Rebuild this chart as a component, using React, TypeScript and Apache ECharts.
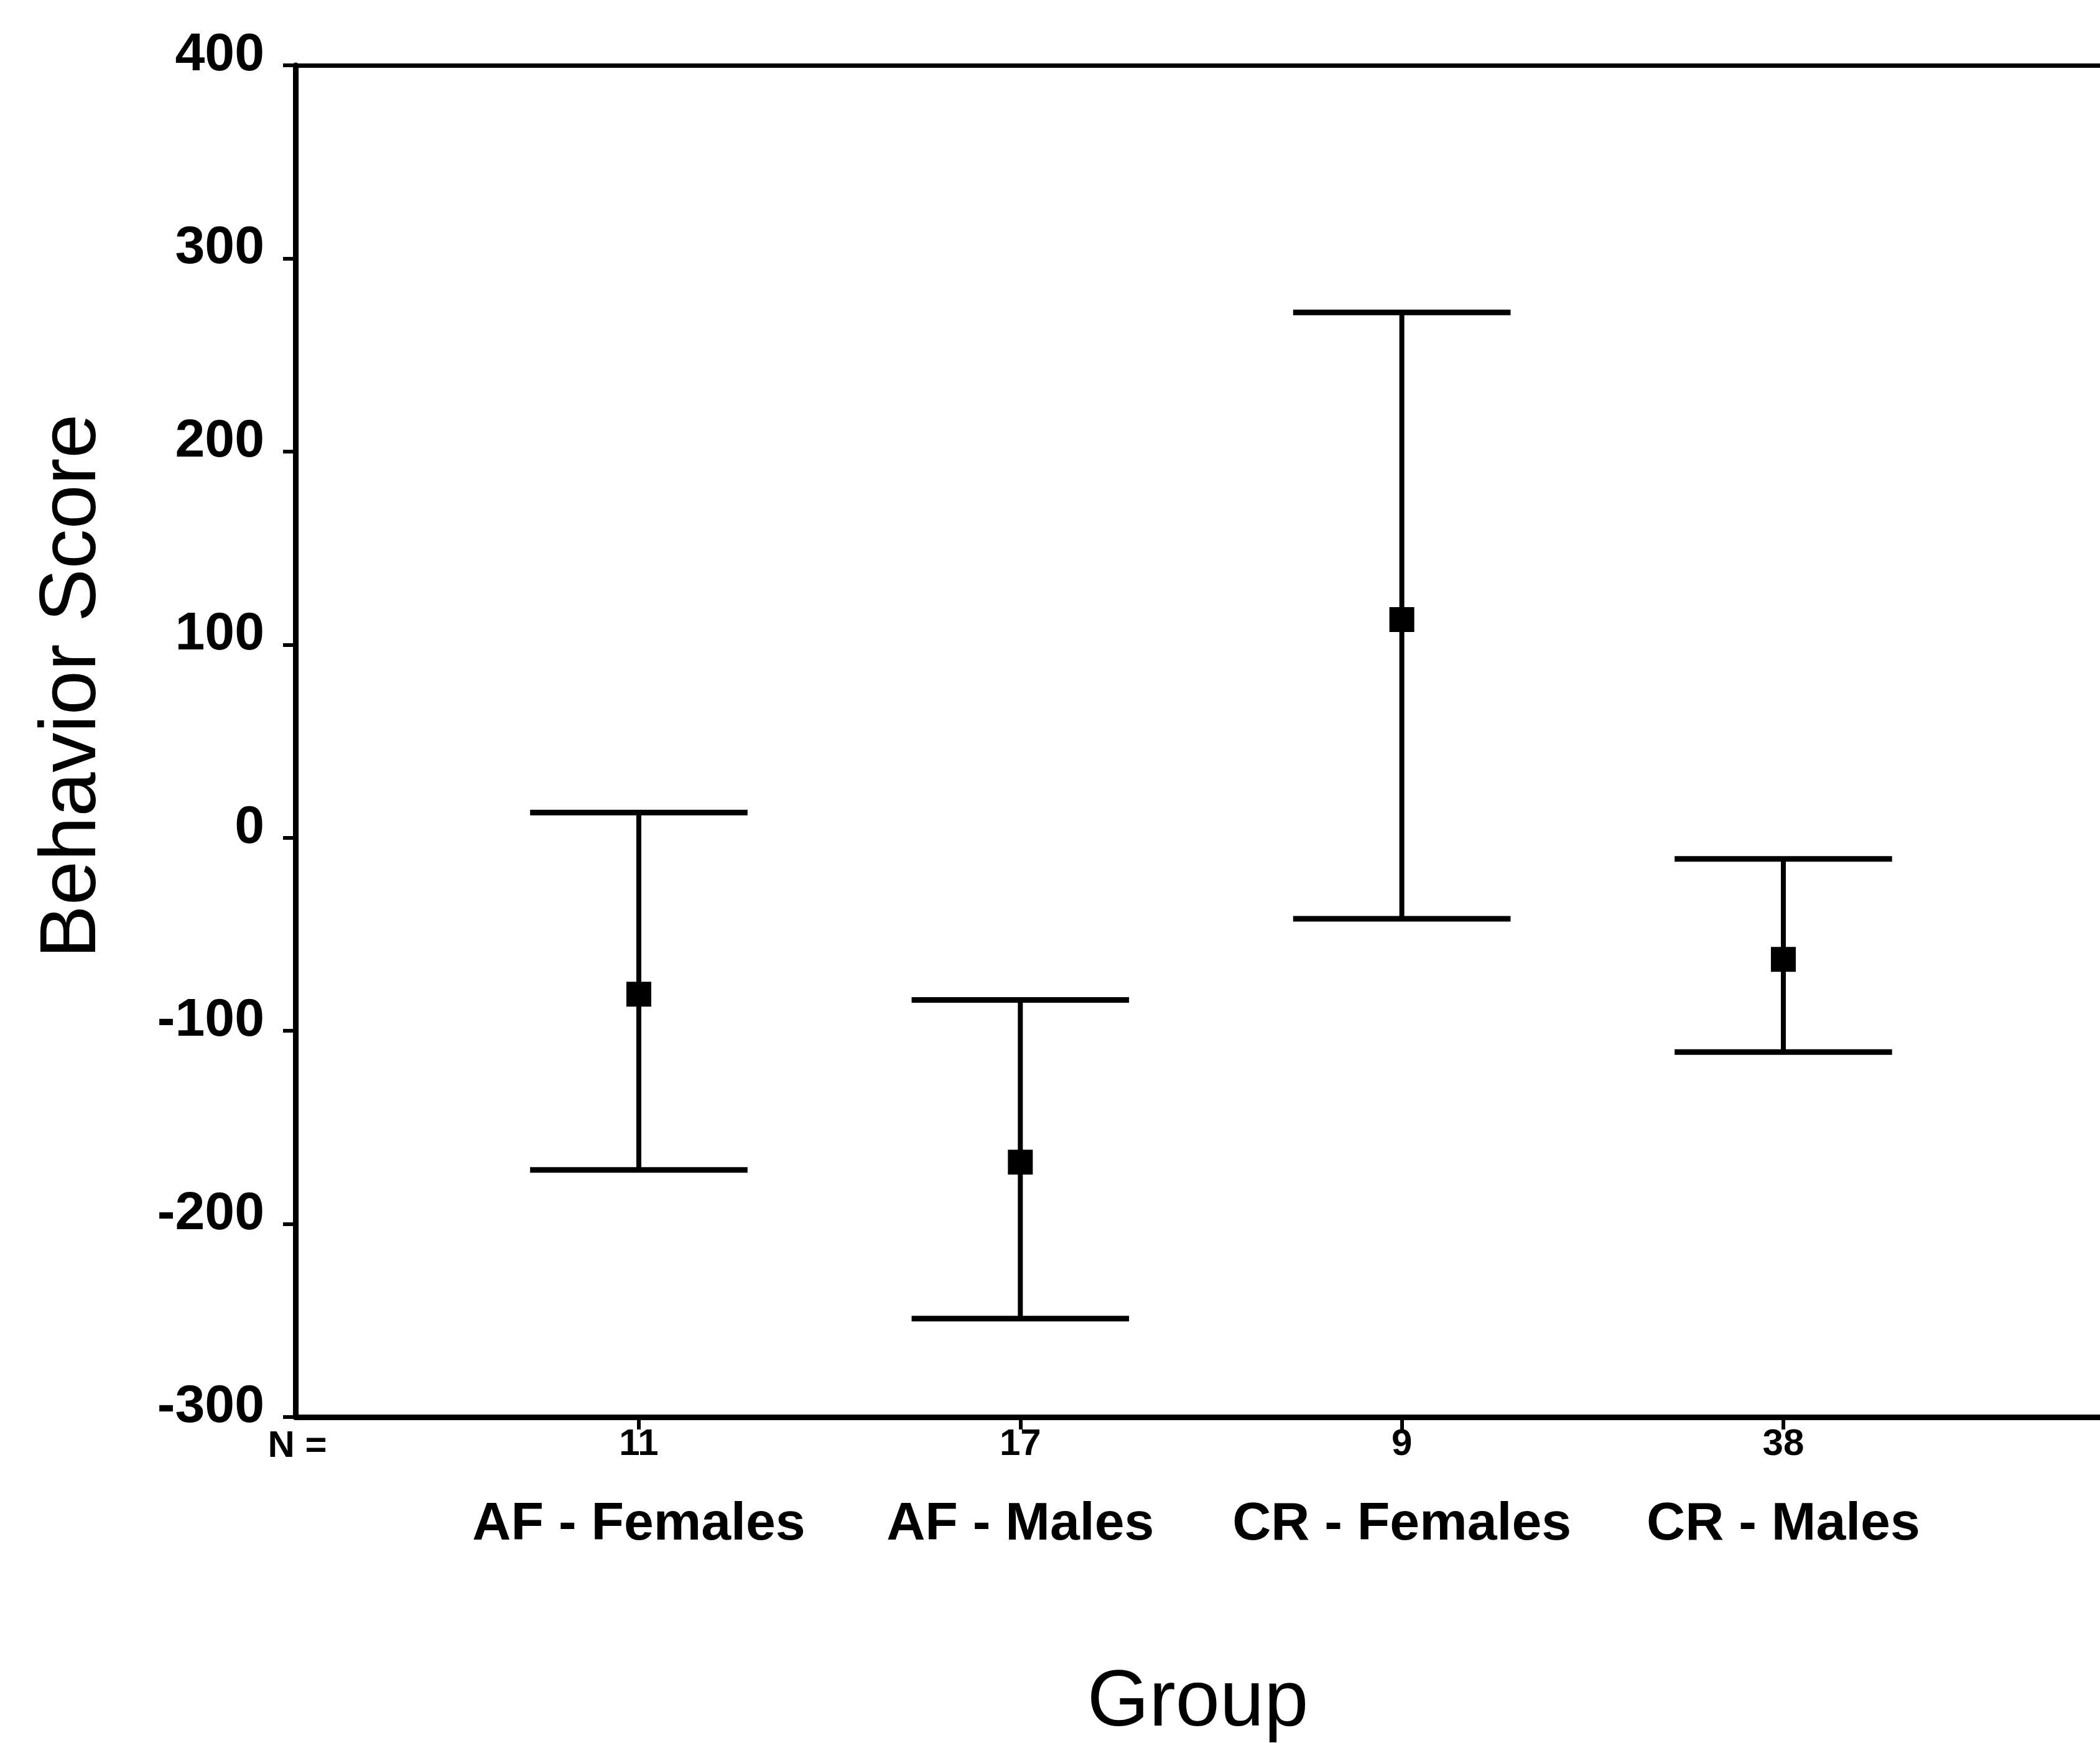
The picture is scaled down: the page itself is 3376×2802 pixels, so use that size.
import React, { useEffect, useRef } from "react";
import * as echarts from "echarts";

const categories = ["AF - Females", "AF - Males", "CR - Females", "CR - Males"];
const nCounts = ["11", "17", "9", "38"];
const means = [-81, -168, 113, -63];
const upper = [13, -84, 272, -11];
const lower = [-172, -249, -42, -111];
const xPositions = [1, 2, 3, 4];

const FONT = "'Liberation Sans', Arial, Helvetica, sans-serif";

export default function App() {
  const ref = useRef<HTMLDivElement>(null);
  useEffect(() => {
    if (!ref.current) return;
    const chart = echarts.init(ref.current, null, { renderer: "svg" });
    const capHalf = 0.285;
    const barData = xPositions.map((x, i) => [x, lower[i], upper[i]]);
    const meanData = xPositions.map((x, i) => [x, means[i]]);
    chart.setOption({
      animation: false,
      backgroundColor: "#ffffff",
      textStyle: { fontFamily: FONT, color: "#000" },
      grid: { left: 475, right: 0, top: 105, bottom: 524, containLabel: false },
      xAxis: [
        {
          type: "value",
          min: 0.1,
          max: 4.83,
          position: "bottom",
          name: "Group",
          nameLocation: "middle",
          nameGap: 387,
          nameTextStyle: { fontSize: 128, fontFamily: FONT, color: "#000" },
          axisLine: { show: true, onZero: false, lineStyle: { color: "#000", width: 9 } },
          axisTick: {
            show: true,
            customValues: xPositions,
            length: 20,
            lineStyle: { color: "#000", width: 6 },
          },
          axisLabel: {
            show: true,
            customValues: xPositions,
            margin: 8,
            formatter: (v: number) => {
              const i = Math.round(v) - 1;
              return `{n|${nCounts[i]}}\n{c|${categories[i]}}`;
            },
            rich: {
              n: { fontSize: 60, fontWeight: "bold", lineHeight: 64, fontFamily: FONT, color: "#000" },
              c: { fontSize: 86, fontWeight: "bold", lineHeight: 190, fontFamily: FONT, color: "#000" },
            },
          },
          splitLine: { show: false },
        },
        {
          type: "value",
          min: 0.1,
          max: 4.83,
          position: "top",
          axisLine: { show: true, onZero: false, lineStyle: { color: "#000", width: 7 } },
          axisTick: { show: false },
          axisLabel: { show: false },
          splitLine: { show: false },
        },
      ],
      yAxis: {
        type: "value",
        min: -300,
        max: 400,
        interval: 100,
        axisLine: { show: true, onZero: false, lineStyle: { color: "#000", width: 9 } },
        axisTick: { show: true, length: 20, lineStyle: { color: "#000", width: 6 } },
        axisLabel: {
          margin: 50,
          fontSize: 86,
          fontWeight: "bold",
          fontFamily: FONT,
          color: "#000",
          verticalAlign: "bottom",
          lineHeight: 44,
        },
        splitLine: { show: false },
      },
      graphic: [
        {
          type: "text",
          x: 108,
          y: 1103,
          rotation: Math.PI / 2,
          style: {
            text: "Behavior Score",
            fontSize: 128,
            fontFamily: FONT,
            fill: "#000",
            align: "center",
            verticalAlign: "middle",
          },
        },
        {
          type: "text",
          x: 478,
          y: 2321,
          style: {
            text: "N =",
            fontSize: 60,
            fontWeight: "bold",
            fontFamily: FONT,
            fill: "#000",
            align: "center",
            verticalAlign: "middle",
          },
        },
      ],
      series: [
        {
          type: "custom",
          xAxisIndex: 0,
          data: barData,
          renderItem: (params: any, api: any) => {
            const x = api.value(0);
            const lo = api.value(1);
            const hi = api.value(2);
            const top = api.coord([x, hi]);
            const bot = api.coord([x, lo]);
            const tl = api.coord([x - capHalf, hi]);
            const tr = api.coord([x + capHalf, hi]);
            const bl = api.coord([x - capHalf, lo]);
            const br = api.coord([x + capHalf, lo]);
            const style = { stroke: "#000", lineWidth: 9 };
            return {
              type: "group",
              children: [
                { type: "line", shape: { x1: top[0], y1: top[1], x2: bot[0], y2: bot[1] }, style: { stroke: "#000", lineWidth: 8 } },
                { type: "line", shape: { x1: tl[0], y1: tl[1], x2: tr[0], y2: tr[1] }, style },
                { type: "line", shape: { x1: bl[0], y1: bl[1], x2: br[0], y2: br[1] }, style },
              ],
            };
          },
          z: 2,
        },
        {
          type: "scatter",
          xAxisIndex: 0,
          data: meanData,
          symbol: "rect",
          symbolSize: 40,
          itemStyle: { color: "#000", opacity: 1 },
          z: 3,
        },
      ],
    });
    return () => chart.dispose();
  }, []);
  return (
    <div
      ref={ref}
      style={{ position: "fixed", left: 0, top: 0, width: "3376px", height: "2802px", background: "#fff" }}
    />
  );
}
